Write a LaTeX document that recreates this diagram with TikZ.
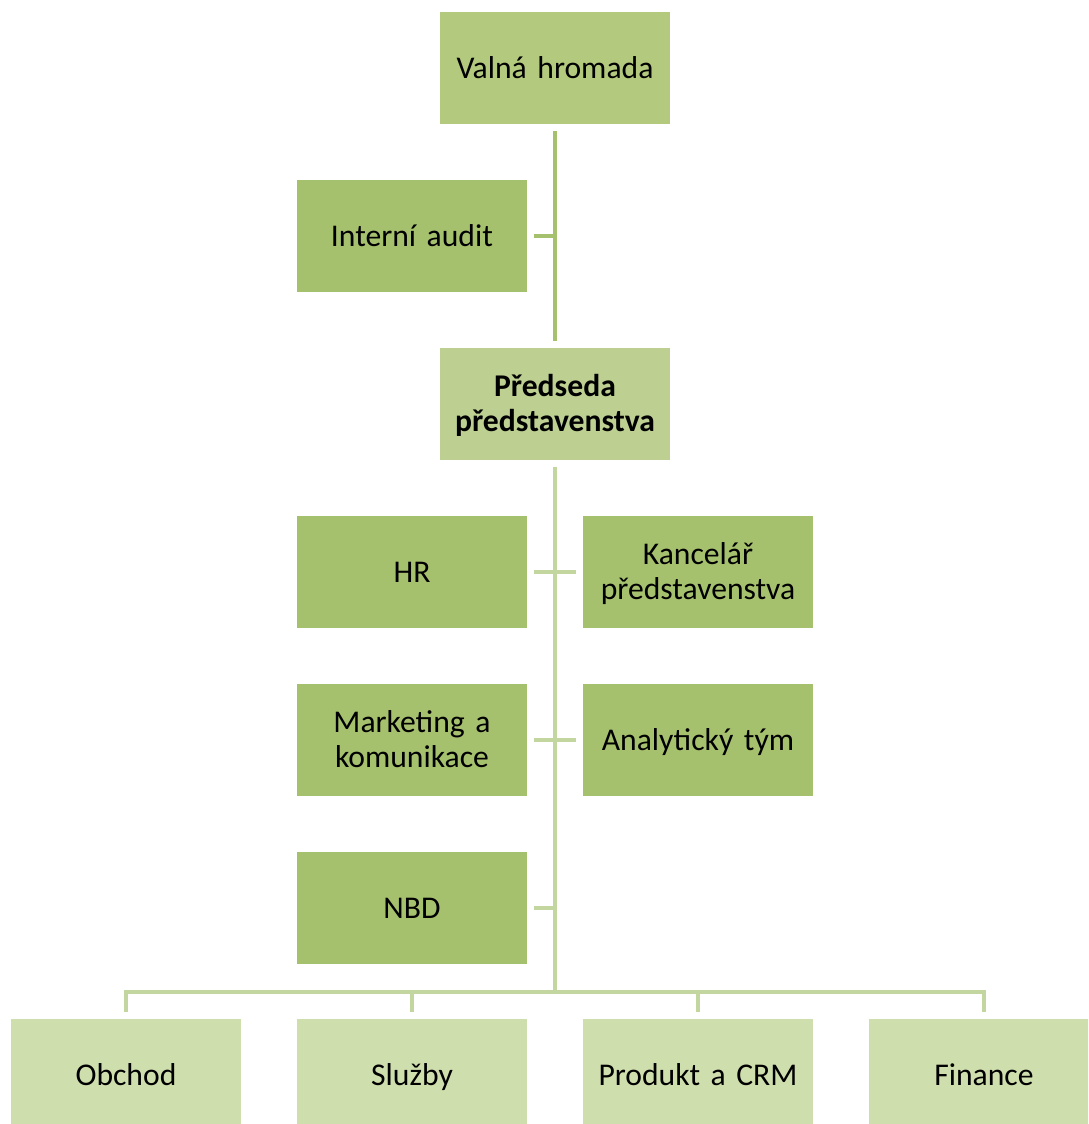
\documentclass[tikz,border=0pt]{standalone}
\usepackage{fontspec}
\setmainfont[WordSpace=0.85]{Carlito}
\usetikzlibrary{positioning}

\definecolor{topgreen}{HTML}{B3CA7E}
\definecolor{unitgreen}{HTML}{A6C16E}
\definecolor{chairgreen}{HTML}{BDD092}
\definecolor{deptgreen}{HTML}{CFDEAD}
\definecolor{linedark}{HTML}{A6C16E}
\definecolor{linelight}{HTML}{C4D6A0}

\begin{document}
\begin{tikzpicture}[x=0.025cm,y=-0.025cm,line width=3.5pt,
                    font=\fontsize{22.5}{25}\selectfont]
  \tikzstyle{box}=[rectangle,minimum width=5.75cm,minimum height=2.8cm,
                   text width=5.6cm,align=center,inner sep=0pt,
                   execute at begin node=\rule{0pt}{22pt},execute at end node=\strut]
  \tikzstyle{board}=[box,fill=topgreen]
  \tikzstyle{unit}=[box,fill=unitgreen]
  \tikzstyle{chair}=[box,fill=chairgreen,font=\fontsize{22.5}{25}\selectfont\bfseries]
  \tikzstyle{dept}=[box,fill=deptgreen]

  \useasboundingbox (0,0) rectangle (1088,1124);
  \clip (0,0) rectangle (1088,1124);

  \node[board] (VH)  at (555,68)   {Valná hromada};
  \node[unit]  (IA)  at (412,236)  {Interní audit};
  \node[chair] (PP)  at (555,404)  {Předseda\\představenstva};
  \node[unit]  (HR)  at (412,572)  {HR};
  \node[unit]  (KP)  at (698,572)  {Kancelář\\představenstva};
  \node[unit]  (MK)  at (412,740)  {Marketing a\\komunikace};
  \node[unit]  (AT)  at (698,740)  {Analytický tým};
  \node[unit]  (NBD) at (412,908)  {NBD};
  \node[dept]  (OB)  at (126,1075) {Obchod};
  \node[dept]  (SL)  at (412,1075) {Služby};
  \node[dept]  (PC)  at (698,1075) {Produkt a CRM};
  \node[dept]  (FI)  at (984,1075) {Finance};

  % upper tree
  \draw[linedark] ([yshift=-3.5pt]VH.south) -- ([yshift=3.5pt]PP.north);
  \draw[linedark] ([xshift=3.5pt]IA.east) -- (IA.east -| VH.south);

  % staff units
  \coordinate (bus) at (555,992);
  \draw[linelight] ([yshift=-3.5pt]PP.south) -- (bus);
  \draw[linelight] ([xshift=3.5pt]HR.east) -- ([xshift=-3.5pt]KP.west);
  \draw[linelight] ([xshift=3.5pt]MK.east) -- ([xshift=-3.5pt]AT.west);
  \draw[linelight] ([xshift=3.5pt]NBD.east) -- (NBD.east -| PP.south);

  % departments
  \draw[linelight] ([yshift=3.5pt]OB.north) |- (bus) -| ([yshift=3.5pt]FI.north);
  \draw[linelight] ([yshift=3.5pt]SL.north) -- (SL.north |- bus);
  \draw[linelight] ([yshift=3.5pt]PC.north) -- (PC.north |- bus);
\end{tikzpicture}
\end{document}
